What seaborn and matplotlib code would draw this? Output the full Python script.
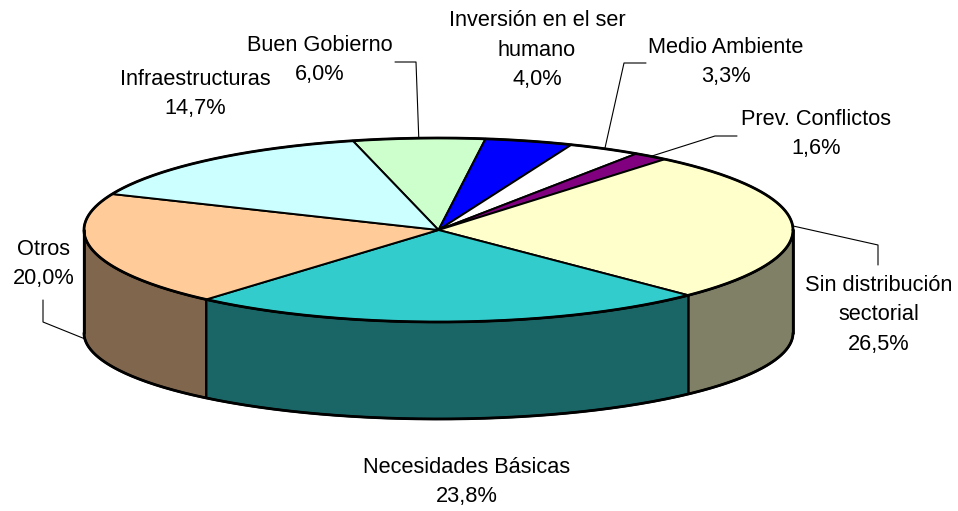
import numpy as np
import matplotlib
matplotlib.use('Agg')
import matplotlib.pyplot as plt
import seaborn as sns

# data, clockwise from the top
sectors = ['Buen Gobierno', 'Inversión en el ser\nhumano', 'Medio Ambiente', 'Prev. Conflictos',
           'Sin distribución\nsectorial', 'Necesidades Básicas', 'Otros', 'Infraestructuras']
shares = [6.0, 4.0, 3.3, 1.6, 26.5, 23.8, 20.0, 14.7]
top_colors = ['#CCFFCC', '#0000FF', '#FFFFFF', '#800080',
              '#FFFFCC', '#33CCCC', '#FFCC99', '#CCFFFF']

# label layout (text centre) and leader elbows (label end first)
label_pos = [(320, 60), (537, 50), (726, 62), (816, 134),
             (879, 315), (467, 482), (44, 264), (195, 94)]
leader_elbow = [[(395, 62), (416, 62)], None, [(646, 63), (624, 63)],
                [(737, 136), (715, 136)], [(878, 265), (878, 245)], None,
                [(43, 300), (43, 322)], None]

sns.set_theme(style='white')
plt.rcParams['font.family'] = ['Liberation Sans', 'DejaVu Sans']

# pie geometry in pixel coordinates
cx, rx = 438.5, 354.5
cy_top, ry_top = 230, 92
cy_bot, ry_bot = 333, 86
start = 104.0

def pt(t, cy, ry):
    r = np.radians(t)
    return cx + rx * np.cos(r), cy - ry * np.sin(r)

def arc(t0, t1, cy, ry, n=200):
    ts = np.linspace(t0, t1, n)
    r = np.radians(ts)
    return np.column_stack([cx + rx * np.cos(r), cy - ry * np.sin(r)])

palette = sns.color_palette(top_colors)
side_colors = [tuple(c * 0.5 for c in col) for col in palette]

total = sum(shares)
bounds = []
a = start
for v in shares:
    b = a - v / total * 360
    bounds.append((a, b))
    a = b

fig = plt.figure(figsize=(9.58, 5.11), dpi=100)
ax = fig.add_axes([0, 0, 1, 1])
ax.set_xlim(0, 958)
ax.set_ylim(511, 0)
ax.axis('off')

# side walls (front half only)
for (a1, a2), col in zip(bounds, side_colors):
    for k in (-1, 0, 1):
        lo = max(a2, -180 + 360 * k)
        hi = min(a1, 0 + 360 * k)
        if hi <= lo:
            continue
        top = arc(lo, hi, cy_top, ry_top)
        bot = arc(hi, lo, cy_bot, ry_bot)
        poly = np.vstack([top, bot])
        ax.fill(poly[:, 0], poly[:, 1], facecolor=col, edgecolor='black',
                linewidth=1.6, joinstyle='round', zorder=2)

# top faces
for (a1, a2), col in zip(bounds, palette):
    pts = np.vstack([[cx, cy_top], arc(a1, a2, cy_top, ry_top)])
    ax.fill(pts[:, 0], pts[:, 1], facecolor=col, edgecolor='black',
            linewidth=1.4, joinstyle='round', zorder=3)

# outer outline
outline = arc(0, 360, cy_top, ry_top, 600)
ax.plot(outline[:, 0], outline[:, 1], color='black', lw=2, zorder=4)
front = arc(-180, 0, cy_bot, ry_bot, 400)
ax.plot(front[:, 0], front[:, 1], color='black', lw=2, zorder=4)
for t in (180, 0):
    x0, y0 = pt(t, cy_top, ry_top)
    x1, y1 = pt(t, cy_bot, ry_bot)
    ax.plot([x0, x1], [y0, y1], color='black', lw=2, zorder=4)

# labels and leader lines
for name, v, (a1, a2), (lx, ly), elbow in zip(sectors, shares, bounds, label_pos, leader_elbow):
    txt = name + '\n' + f'{v:.1f}%'.replace('.', ',')
    ax.text(lx, ly, txt, ha='center', va='center', fontsize=15.7,
            color='black', linespacing=1.52, zorder=5)
    if elbow is None:
        continue
    mid = (a1 + a2) / 2
    mx, my = pt(mid, cy_top, ry_top)
    if np.sin(np.radians(mid)) < -0.05:
        _, by = pt(mid, cy_bot, ry_bot)
        my = my + 0.9 * (by - my)
    xs = [p[0] for p in elbow] + [mx]
    ys = [p[1] for p in elbow] + [my]
    ax.plot(xs, ys, color='black', lw=0.8, zorder=1)

fig.savefig('out.png', dpi=100, facecolor='white')
